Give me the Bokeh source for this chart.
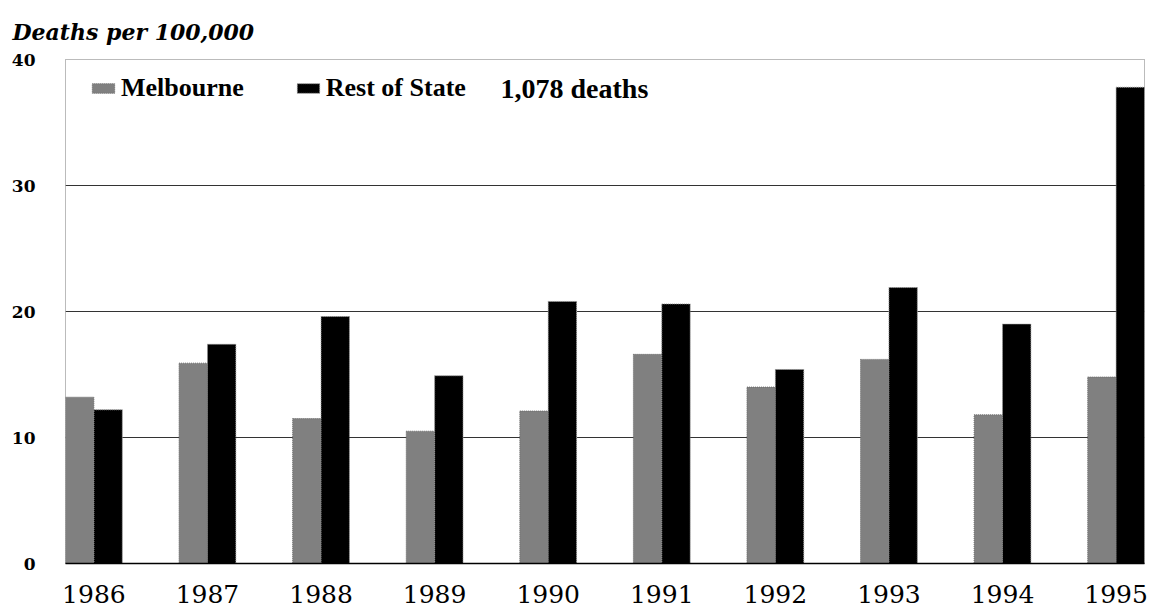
from bokeh.plotting import figure
from bokeh.models import Range1d, FixedTicker, Label, ColumnDataSource
from bokeh.transform import dodge
from bokeh.embed import file_html
from bokeh.resources import INLINE

# ---- data ----
years = ["1986", "1987", "1988", "1989", "1990", "1991", "1992", "1993", "1994", "1995"]
melbourne = [13.2, 15.9, 11.5, 10.5, 12.1, 16.6, 14.0, 16.2, 11.8, 14.8]
rest_of_state = [12.2, 17.4, 19.6, 14.9, 20.8, 20.6, 15.4, 21.9, 19.0, 37.8]
y_ticks = [0, 10, 20, 30, 40]
grid_values = [10, 20, 30]
series_names = ["Melbourne", "Rest of State"]
title_text = "Deaths per 100,000"
total_note = "1,078 deaths"

pos = list(range(len(years)))
src = ColumnDataSource(dict(pos=pos, year=years, mel=melbourne, rest=rest_of_state))

p = figure(width=1153, height=608, output_backend="svg", toolbar_location=None,
           x_range=Range1d(-0.25, len(years) - 0.75), y_range=Range1d(0, 40),
           min_border_left=65, min_border_right=9, min_border_top=59, min_border_bottom=45,
           background_fill_color="white", border_fill_color="white")

# outline (dotted border)
p.outline_line_color = "#777777"
p.outline_line_dash = "1 1"
p.outline_line_width = 1

# bars
r1 = p.vbar(x=dodge("pos", -0.125, range=p.x_range), top="mel", width=0.25, source=src,
            fill_color="#808080", line_color="#6a6a6a", line_dash="1 1", line_width=1,
            legend_label=series_names[0])
r2 = p.vbar(x=dodge("pos", 0.125, range=p.x_range), top="rest", width=0.25, source=src,
            fill_color="#000000", line_color="#999999", line_dash="1 1", line_width=1,
            legend_label=series_names[1])

# x axis with year labels
p.xaxis.ticker = FixedTicker(ticks=pos)
p.xaxis.major_label_overrides = {i: y for i, y in zip(pos, years)}
p.xaxis.axis_line_color = "black"
p.xaxis.axis_line_width = 1.5
p.xaxis.major_tick_out = 0
p.xaxis.major_tick_in = 0
p.xaxis.major_label_standoff = 21
p.xaxis.major_label_text_font = "DejaVu Serif"
p.xaxis.major_label_text_font_style = "normal"
p.xaxis.major_label_text_font_size = "25px"
p.xaxis.major_label_text_color = "black"

# y axis
p.yaxis.ticker = FixedTicker(ticks=y_ticks)
p.yaxis.axis_line_color = None
p.yaxis.major_tick_out = 0
p.yaxis.major_tick_in = 0
p.yaxis.minor_tick_out = 0
p.yaxis.major_label_standoff = 30
p.yaxis.major_label_text_font = "DejaVu Serif"
p.yaxis.major_label_text_font_style = "bold"
p.yaxis.major_label_text_font_size = "17px"
p.yaxis.major_label_text_color = "black"

# grid
p.xgrid.visible = False
p.ygrid.ticker = FixedTicker(ticks=grid_values)
p.ygrid.grid_line_color = "#333333"
p.ygrid.grid_line_width = 1

# title
p.title.text = title_text
p.title.align = "left"
p.title.offset = -53
p.title.standoff = 29
p.title.text_font = "DejaVu Serif"
p.title.text_font_style = "bold italic"
p.title.text_font_size = "22px"
p.title.text_color = "black"

# legend
leg = p.legend[0]
leg.orientation = "horizontal"
leg.location = (24, 460.5)
leg.padding = 0
leg.margin = 0
leg.spacing = 50
leg.label_standoff = 4
leg.glyph_width = 28
leg.glyph_height = 12
leg.label_height = 30
leg.label_text_font = "Liberation Serif"
leg.label_text_font_style = "bold"
leg.label_text_font_size = "26px"
leg.label_text_color = "black"
leg.border_line_color = None
leg.background_fill_alpha = 0

note = Label(x=435, y=475.5, x_units="screen", y_units="screen", text=total_note,
             text_font="Liberation Serif", text_font_style="bold", text_font_size="28px",
             text_baseline="middle", text_color="black")
p.add_layout(note)

open("out.html", "w").write(file_html(p, INLINE))
